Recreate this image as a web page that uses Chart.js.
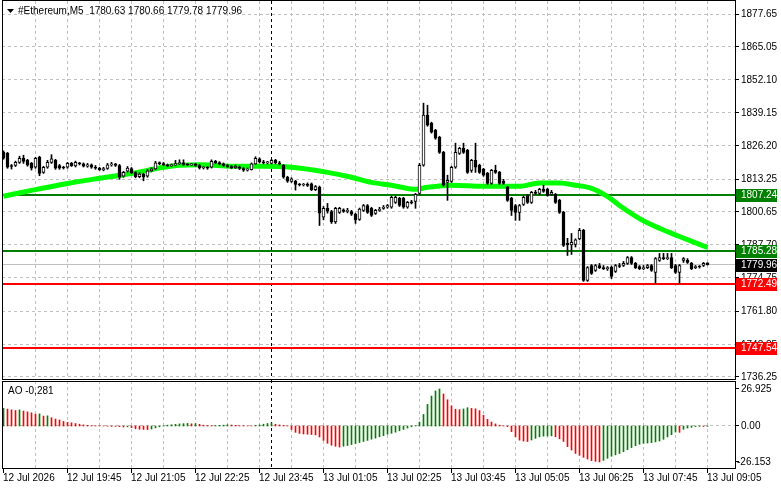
<!DOCTYPE html>
<html>
<head>
<meta charset="utf-8">
<script src="https://cdn.jsdelivr.net/npm/chart.js@4.4.1/dist/chart.umd.min.js"></script>
<style>
  html, body { margin: 0; padding: 0; background: #fff; }
  #wrap { position: relative; width: 781px; height: 489px; overflow: hidden; }
  #main { position: absolute; left: 0; top: 0; }
  #ao { position: absolute; left: 0; top: 380px; }
</style>
</head>
<body>
<div id="wrap">
  <canvas id="main" width="781" height="380"></canvas>
  <canvas id="ao" width="781" height="109"></canvas>
</div>
<script>
// M5 candles, 12 Jul 18:25 .. 13 Jul 09:05 (bar index = 5 minutes)
const opens = [
  1823.7,1823.3,1818.5,1818.6,1819.8,1821.4,1820.6,1819.4,1817.9,1821.8,
  1815.9,1817.9,1819.8,1820.6,1818.6,1817.9,1817.9,1819.4,1818.4,1819.4,
  1819.2,1818.3,1818.8,1817.9,1817.5,1816.9,1817.4,1818.8,1819.2,1818.6,
  1814.4,1816.4,1817.4,1815.8,1814.2,1815.2,1814.4,1816.5,1817.3,1819.6,
  1819.3,1818.8,1818.5,1818.8,1819.3,1819.6,1819.0,1818.8,1819.0,1818.6,
  1817.6,1817.8,1817.9,1820.2,1819.7,1819.2,1818.6,1818.2,1817.7,1818.0,
  1817.4,1816.8,1817.0,1819.2,1821.2,1820.0,1819.6,1819.4,1820.6,1819.6,
  1818.7,1814.0,1812.4,1812.4,1811.2,1811.0,1811.2,1811.4,1809.2,1810.2,
  1798.4,1801.9,1800.6,1796.6,1800.3,1801.3,1800.7,1800.6,1799.6,1797.6,
  1801.1,1803.0,1801.9,1799.9,1801.1,1801.9,1802.3,1802.3,1804.2,1805.8,
  1805.8,1802.3,1804.2,1804.6,1807.7,1818.7,1838.2,1835.1,1832.3,1829.6,
  1823.7,1812.0,1812.4,1817.9,1823.3,1825.3,1824.5,1816.7,1820.6,1818.7,
  1817.1,1815.5,1811.6,1816.7,1815.9,1812.4,1810.1,1805.8,1803.0,1800.3,
  1803.4,1806.9,1804.2,1808.1,1807.7,1809.3,1809.3,1807.3,1807.3,1805.0,
  1800.3,1788.2,1787.6,1787.8,1790.0,1793.3,1773.8,1779.6,1777.7,1779.6,
  1778.8,1778.4,1779.0,1777.3,1779.6,1779.6,1780.4,1782.7,1780.4,1779.2,
  1778.4,1778.8,1779.6,1776.9,1781.6,1782.7,1782.3,1782.7,1779.6,1776.9,
  1781.6,1781.6,1780.4,1778.8,1779.2,1779.6,1780.63
];
const highs = [
  1824.3,1823.7,1819.0,1820.3,1822.2,1822.6,1821.0,1819.8,1821.8,1822.2,
  1818.3,1820.6,1822.8,1821.0,1819.0,1818.3,1819.8,1819.8,1820.3,1819.8,
  1819.6,1819.4,1819.2,1818.6,1817.9,1817.9,1819.4,1819.8,1819.4,1819.0,
  1816.3,1818.2,1817.8,1816.2,1815.8,1815.6,1817.0,1817.7,1820.2,1820.0,
  1819.8,1819.2,1819.2,1820.6,1820.8,1820.8,1819.4,1819.4,1819.5,1819.0,
  1818.2,1818.2,1820.8,1820.6,1820.1,1819.6,1819.0,1818.6,1818.8,1818.4,
  1817.8,1817.6,1819.6,1822.0,1821.6,1820.6,1820.2,1821.0,1821.0,1820.2,
  1819.0,1814.4,1813.8,1812.8,1811.6,1811.6,1811.8,1811.8,1810.8,1810.6,
  1802.6,1803.8,1801.1,1802.3,1802.3,1801.7,1801.9,1801.1,1800.0,1802.0,
  1803.4,1803.4,1802.3,1801.5,1802.3,1803.0,1803.4,1806.6,1806.6,1806.2,
  1806.2,1804.6,1805.0,1807.7,1819.4,1842.9,1842.1,1835.5,1832.7,1830.0,
  1824.1,1814.8,1818.3,1827.3,1825.7,1827.3,1824.9,1821.0,1827.3,1819.1,
  1817.5,1815.9,1817.1,1818.7,1816.3,1813.2,1810.5,1806.2,1803.4,1803.4,
  1806.6,1807.3,1808.5,1808.9,1809.7,1810.9,1809.7,1808.9,1807.7,1805.4,
  1800.7,1790.2,1792.1,1790.0,1794.1,1793.7,1779.2,1780.0,1780.0,1780.4,
  1779.6,1779.2,1779.4,1780.0,1780.4,1781.2,1783.1,1783.1,1780.8,1779.6,
  1779.6,1780.0,1780.0,1782.7,1784.3,1784.3,1784.3,1784.3,1780.0,1780.0,
  1782.7,1782.3,1780.8,1779.6,1779.6,1780.8,1780.66
];
const lows = [
  1821.0,1817.5,1817.2,1818.2,1819.4,1819.4,1818.3,1816.8,1817.5,1814.6,
  1815.5,1817.5,1819.4,1817.1,1817.1,1817.2,1817.5,1818.2,1818.0,1818.8,
  1818.0,1817.9,1817.5,1817.1,1816.7,1816.5,1817.1,1818.3,1818.2,1813.2,
  1814.0,1816.0,1815.4,1813.8,1813.8,1812.6,1814.0,1816.1,1817.0,1818.9,
  1818.5,1818.1,1818.1,1818.5,1818.9,1818.6,1818.5,1818.5,1818.2,1817.2,
  1817.2,1817.1,1817.6,1819.3,1818.8,1818.2,1817.8,1817.3,1817.4,1817.0,
  1816.3,1816.4,1816.8,1819.0,1819.6,1819.2,1819.2,1819.2,1819.2,1818.8,
  1813.6,1812.0,1812.0,1809.0,1810.6,1810.6,1810.4,1808.8,1808.8,1795.2,
  1797.4,1800.0,1796.0,1796.0,1799.9,1800.3,1800.1,1799.1,1796.0,1797.2,
  1800.7,1799.9,1798.7,1799.5,1800.7,1801.5,1801.9,1801.9,1803.8,1802.6,
  1801.9,1801.9,1803.6,1801.9,1807.3,1818.3,1833.9,1831.2,1828.8,1823.3,
  1810.5,1805.0,1812.0,1817.5,1822.9,1823.3,1815.5,1815.9,1815.9,1815.5,
  1814.4,1811.2,1811.2,1815.5,1811.2,1811.2,1804.6,1799.1,1797.2,1797.2,
  1803.0,1803.8,1803.8,1807.3,1807.3,1808.1,1806.6,1806.9,1803.8,1799.9,
  1787.0,1783.5,1783.9,1786.8,1789.6,1773.4,1773.4,1776.1,1777.3,1778.4,
  1778.0,1777.7,1774.5,1776.9,1778.8,1779.2,1780.0,1780.0,1778.4,1778.0,
  1778.0,1778.4,1777.3,1772.6,1781.2,1781.9,1781.9,1778.4,1776.5,1772.6,
  1780.8,1780.4,1778.0,1778.4,1778.6,1779.2,1779.78
];
const closes = [
  1821.4,1817.9,1818.2,1819.8,1821.4,1820.2,1818.7,1817.5,1821.4,1815.5,
  1817.9,1819.8,1821.2,1817.5,1817.5,1817.6,1819.4,1818.5,1819.8,1819.2,
  1818.3,1818.8,1817.9,1817.5,1816.9,1817.4,1818.8,1819.2,1818.6,1814.0,
  1815.9,1817.6,1815.8,1814.2,1815.2,1814.0,1816.5,1817.3,1819.6,1819.3,
  1818.8,1818.5,1818.8,1819.3,1819.6,1819.0,1818.8,1819.0,1818.6,1817.6,
  1817.8,1817.5,1820.2,1819.7,1819.2,1818.6,1818.2,1817.7,1818.3,1817.4,
  1816.8,1816.9,1819.2,1821.4,1820.0,1819.6,1819.8,1820.6,1819.6,1819.2,
  1814.0,1812.5,1813.4,1811.2,1811.0,1811.2,1810.8,1809.2,1810.4,1800.0,
  1801.9,1800.8,1796.6,1801.9,1801.9,1800.7,1800.9,1799.6,1797.4,1801.6,
  1803.0,1800.3,1799.1,1801.1,1801.5,1802.3,1803.0,1806.2,1806.2,1803.0,
  1802.3,1804.2,1804.0,1807.3,1818.7,1838.2,1834.3,1831.6,1829.2,1823.7,
  1810.9,1812.8,1817.9,1823.7,1825.3,1823.7,1815.9,1820.6,1817.9,1815.9,
  1814.8,1811.6,1816.7,1815.9,1811.6,1811.6,1805.0,1801.1,1800.3,1803.0,
  1806.2,1804.2,1808.1,1807.7,1809.3,1808.5,1806.9,1808.1,1804.2,1800.3,
  1787.4,1787.6,1788.6,1789.6,1793.3,1773.8,1778.8,1776.5,1779.6,1778.8,
  1778.4,1778.8,1775.3,1779.6,1779.2,1780.4,1782.7,1780.4,1778.8,1778.4,
  1778.8,1779.6,1777.7,1782.3,1782.7,1782.3,1782.7,1778.8,1776.9,1779.6,
  1782.3,1780.8,1778.4,1779.2,1779.0,1780.4,1779.96
];

// moving average, read at a few bars
const maBars = [0,7,16,24,32,36,40,44,50,57,65,72,81,87,92,97,103,106,112,120,129,134,139,143,147,151,154,159,164,169,176];
const maValues = [1806.6,1808.9,1811.6,1813.6,1815.5,1816.7,1817.9,1818.7,1818.9,1818.3,1818.3,1817.9,1815.9,1814.0,1812.0,1810.9,1809.3,1810.1,1810.9,1810.5,1810.5,1811.8,1811.8,1810.9,1809.7,1806.5,1803.0,1797.9,1794.1,1790.9,1786.6];

// Awesome Oscillator
const aoValues = [
  12.9,12.3,11.8,11.3,11.7,10.9,10.3,9.6,8.6,8.8,
  7.2,7.4,6.0,5.0,4.4,3.3,2.7,2.3,1.8,1.3,
  0.8,0.5,0.3,0.2,0.1,0.05,-0.2,-0.3,-0.3,-0.5,
  -0.7,-0.6,-1.2,-2.0,-2.4,-2.5,-2.6,-2.2,-1.4,-0.6,
  0.2,0.6,0.9,1.2,1.5,1.7,1.9,1.6,1.8,1.2,
  0.6,0.4,0.3,0.4,0.5,0.6,0.9,0.7,0.5,0.3,
  0.2,0.1,0.1,0.4,0.8,1.3,1.8,2.3,1.2,0.8,
  0.4,0.2,-2.6,-4.6,-5.4,-5.8,-6.0,-6.2,-6.5,-8.0,
  -10.5,-12.6,-14.0,-14.8,-15.3,-14.7,-14.2,-13.5,-12.8,-12.0,
  -11.3,-10.5,-9.6,-8.8,-7.8,-7.0,-6.0,-5.3,-4.5,-3.5,
  -2.5,-1.5,-0.6,0.3,2.9,8.4,15.7,21.8,25.5,26.925,
  23.3,19.1,14.6,12.2,11.9,12.4,13.3,12.8,12.5,11.2,
  7.8,4.8,2.9,1.5,0.6,0.2,-0.5,-4.1,-7.8,-10.3,
  -11.0,-11.3,-10.2,-9.0,-7.9,-7.4,-7.3,-7.2,-7.8,-9.3,
  -11.2,-15.0,-17.5,-20.0,-21.3,-22.8,-24.0,-25.2,-25.7,-26.153,
  -25.0,-23.5,-22.0,-21.0,-20.0,-18.7,-17.2,-15.7,-14.3,-13.3,
  -12.6,-12.4,-12.1,-11.6,-10.9,-9.7,-8.0,-6.3,-4.4,-4.6,
  -2.4,-1.5,-1.0,-0.4,-0.3,-0.35,-0.281
];

const priceTicks = ['1877.65','1865.05','1852.10','1839.15','1826.20','1813.25','1800.65','1787.70','1774.75','1761.80','1748.85','1736.25'];
const levelPrices = [1807.24, 1785.28, 1772.49, 1747.54];
const levelColors = ['#008000', '#008000', '#ff0000', '#ff0000'];
const bidPrice = 1779.96;
const aoTicks = ['26.925', '0.00', '-26.153'];
const timeLabels = ['12 Jul 2026','12 Jul 19:45','12 Jul 21:05','12 Jul 22:25','12 Jul 23:45','13 Jul 01:05','13 Jul 02:25','13 Jul 03:45','13 Jul 05:05','13 Jul 06:25','13 Jul 07:45','13 Jul 09:05'];
const timeLabelBars = [0,16,32,48,64,80,96,112,128,144,160,176];
const separatorBar = 67; // 13 Jul 00:00
const titleText = '#Ethereum,M5  1780.63 1780.66 1779.78 1779.96';
const aoTitle = 'AO -0,281';

const FONT = '10px "Liberation Sans", Arial, sans-serif';
const GRID = '#c0c0c0';
const crisp = v => Math.floor(v) + 0.5;
const barIdx = opens.map((_, i) => i);

// ---- main price window ----
const mainDecor = {
  id: 'mainDecor',
  beforeDatasetsDraw(chart) {
    const { ctx, chartArea: a, scales: { x, y } } = chart;
    ctx.save();
    ctx.lineWidth = 1;
    ctx.strokeStyle = GRID;
    ctx.setLineDash([3, 3]);
    ctx.beginPath();
    for (let b = 8; b < x.max; b += 8) {
      const px = crisp(x.getPixelForValue(b));
      ctx.moveTo(px, a.top); ctx.lineTo(px, a.bottom);
    }
    priceTicks.forEach(t => {
      const py = crisp(y.getPixelForValue(+t));
      ctx.moveTo(a.left, py); ctx.lineTo(a.right, py);
    });
    ctx.stroke();

    // day separator
    ctx.strokeStyle = '#000';
    ctx.beginPath();
    const sx = crisp(x.getPixelForValue(separatorBar));
    ctx.moveTo(sx, a.top); ctx.lineTo(sx, a.bottom);
    ctx.stroke();
    ctx.setLineDash([]);

    // bid line
    ctx.strokeStyle = GRID;
    ctx.beginPath();
    const by = crisp(y.getPixelForValue(bidPrice));
    ctx.moveTo(a.left, by); ctx.lineTo(a.right, by);
    ctx.stroke();

    // horizontal levels
    ctx.lineWidth = 2;
    levelPrices.forEach((p, i) => {
      const py = Math.round(y.getPixelForValue(p));
      ctx.strokeStyle = levelColors[i];
      ctx.beginPath();
      ctx.moveTo(a.left, py); ctx.lineTo(a.right, py);
      ctx.stroke();
    });
    ctx.restore();
  },
  afterDraw(chart) {
    const { ctx, chartArea: a, scales: { y } } = chart;
    ctx.save();
    ctx.strokeStyle = '#000';
    ctx.lineWidth = 1;
    ctx.strokeRect(a.left + 0.5, 0.5, a.right - a.left, a.bottom);

    ctx.font = FONT;
    ctx.textBaseline = 'middle';
    ctx.textAlign = 'left';
    ctx.fillStyle = '#000';
    ctx.beginPath();
    priceTicks.forEach(t => {
      const py = y.getPixelForValue(+t);
      ctx.moveTo(a.right, crisp(py)); ctx.lineTo(a.right + 4, crisp(py));
      ctx.fillText(t, a.right + 6, py + 0.5);
    });
    ctx.stroke();

    const box = (p, bg) => {
      const py = Math.round(y.getPixelForValue(p));
      ctx.fillStyle = bg;
      ctx.fillRect(a.right + 1, py - 6, 41, 13);
      ctx.fillStyle = '#fff';
      ctx.fillText(p.toFixed(2), a.right + 6, py + 0.5);
    };
    box(bidPrice, '#000');
    levelPrices.forEach((p, i) => box(p, levelColors[i]));

    // title
    ctx.fillStyle = '#000';
    ctx.beginPath();
    ctx.moveTo(7, 9); ctx.lineTo(14, 9); ctx.lineTo(10.5, 13); ctx.closePath();
    ctx.fill();
    ctx.fillText(titleText, 18, 11);
    ctx.restore();
  }
};

new Chart(document.getElementById('main'), {
  type: 'bar',
  data: {
    datasets: [
      {
        label: 'bodies',
        data: barIdx.map(i => ({ x: i, y: [opens[i], closes[i]] })),
        backgroundColor: barIdx.map(i => closes[i] >= opens[i] ? '#ffffff' : '#000000'),
        borderColor: '#000',
        borderWidth: 1,
        borderSkipped: false,
        barThickness: 3,
        minBarLength: 1,
        grouped: false,
        order: 0
      },
      {
        label: 'wicks',
        data: barIdx.map(i => ({ x: i, y: [lows[i], highs[i]] })),
        backgroundColor: '#000',
        barThickness: 1,
        grouped: false,
        order: 1
      },
      {
        type: 'line',
        label: 'MA',
        data: maBars.map((b, i) => ({ x: b, y: maValues[i] })),
        borderColor: '#00ff00',
        borderWidth: 5,
        pointRadius: 0,
        cubicInterpolationMode: 'monotone',
        order: 2
      }
    ]
  },
  options: {
    responsive: false,
    animation: false,
    events: [],
    layout: { padding: { left: 2, right: 46, top: 1, bottom: 1 } },
    scales: {
      x: { type: 'linear', min: -0.375, max: 182.875, offset: false, display: false },
      y: { min: 1735.35, max: 1882.72, display: false }
    },
    plugins: { legend: { display: false }, tooltip: { enabled: false } }
  },
  plugins: [mainDecor]
});

// ---- AO window ----
const aoDecor = {
  id: 'aoDecor',
  beforeDatasetsDraw(chart) {
    const { ctx, chartArea: a, scales: { x, y } } = chart;
    ctx.save();
    ctx.lineWidth = 1;
    ctx.strokeStyle = GRID;
    ctx.setLineDash([3, 3]);
    ctx.beginPath();
    for (let b = 8; b < x.max; b += 8) {
      const px = crisp(x.getPixelForValue(b));
      ctx.moveTo(px, a.top); ctx.lineTo(px, a.bottom);
    }
    const zy = crisp(y.getPixelForValue(0));
    ctx.moveTo(a.left, zy); ctx.lineTo(a.right, zy);
    ctx.stroke();
    ctx.strokeStyle = '#000';
    ctx.beginPath();
    const sx = crisp(x.getPixelForValue(separatorBar));
    ctx.moveTo(sx, 0); ctx.lineTo(sx, a.bottom);
    ctx.stroke();
    ctx.restore();
  },
  afterDraw(chart) {
    const { ctx, chartArea: a, scales: { x, y } } = chart;
    ctx.save();
    ctx.strokeStyle = '#000';
    ctx.lineWidth = 1;
    ctx.strokeRect(a.left + 0.5, a.top + 0.5, a.right - a.left, a.bottom - a.top);

    ctx.font = FONT;
    ctx.fillStyle = '#000';
    ctx.textBaseline = 'middle';
    ctx.textAlign = 'left';
    ctx.beginPath();
    aoTicks.forEach(t => {
      const py = y.getPixelForValue(+t);
      ctx.moveTo(a.right, crisp(py)); ctx.lineTo(a.right + 4, crisp(py));
      ctx.fillText(t, +t < 0 ? a.right + 2 : a.right + 6, py + 0.5);
    });
    timeLabelBars.forEach((b, i) => {
      const px = crisp(x.getPixelForValue(b));
      ctx.moveTo(px, a.bottom + 0.5); ctx.lineTo(px, a.bottom + 5);
      ctx.fillText(timeLabels[i], px - 0.5, a.bottom + 10);
    });
    ctx.stroke();
    ctx.fillText(aoTitle, 8, 11);
    ctx.restore();
  }
};

new Chart(document.getElementById('ao'), {
  type: 'bar',
  data: {
    datasets: [{
      label: 'AO',
      data: barIdx.map(i => ({ x: i, y: aoValues[i] })),
      backgroundColor: aoValues.map((v, i) => i === 0 || v > aoValues[i - 1] ? '#008000' : '#ff0000'),
      barThickness: 1,
      grouped: false
    }]
  },
  options: {
    responsive: false,
    animation: false,
    events: [],
    layout: { padding: { left: 2, right: 46, top: 1, bottom: 21 } },
    scales: {
      x: { type: 'linear', min: -0.375, max: 182.875, offset: false, display: false },
      y: { min: -30.55, max: 32.73, display: false }
    },
    plugins: { legend: { display: false }, tooltip: { enabled: false } }
  },
  plugins: [aoDecor]
});
</script>
</body>
</html>
